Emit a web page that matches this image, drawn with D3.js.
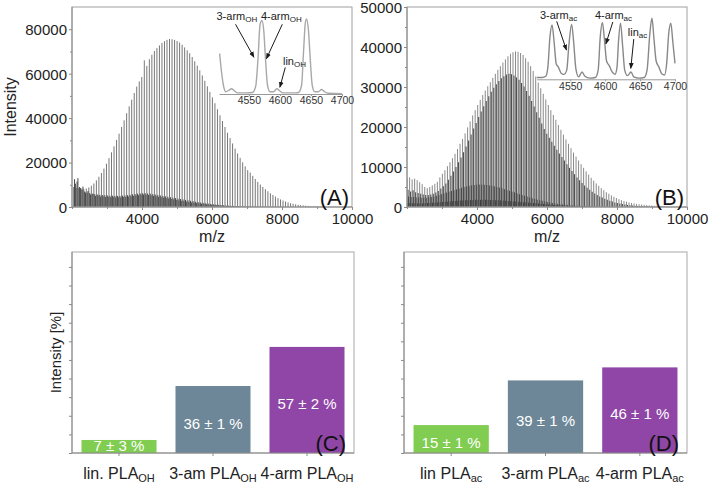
<!DOCTYPE html>
<html><head><meta charset="utf-8">
<script src="https://cdn.jsdelivr.net/npm/d3@7/dist/d3.min.js"></script>
<style>
body{margin:0;background:#fff}
svg{display:block}
text{font-family:"Liberation Sans",Arial,Helvetica,sans-serif}
</style>
</head><body>
<svg id="chart" width="709" height="484"></svg>
<script>
// ---------------- DATA ----------------
const REPEAT_UNIT = 72.06; // PLA repeat unit (Da), spacing of each peak series

// Panel A (PLA_OH) overview spectrum: peak heights of each series, one value per peak
const startA_main = 2048;
const peaksA_main = [9000,8700,8500,8300,8200,8300,8800,9600,10600,12000,
13600,15300,17300,19500,22000,24600,27300,30200,33000,36000,
39000,42200,45300,48300,51300,54200,56500,58500,66000,63500,
66500,68500,70200,71500,72700,73800,74600,75200,75600,75500,
75200,74700,74000,73000,71800,70500,69200,67500,65600,63600,
61500,59200,56800,54300,51800,49300,46700,44000,41300,38700,
36000,33400,31000,28600,26300,24100,22100,20100,18300,16600,
15500,14000,12600,11300,10100,9000,8000,7100,6200,5400,
4700,4000,3400,2900,2450,2050,1720,1450,1200,1000,
850,720,610,520,440,370,310,260,220,185,
155,130,110,95,80,70,60,50,45,40,35];
const startA_minor1 = 2073;
const peaksA_minor1 = [12500,11500,9000,7800,7000,6500,6300,6000,5800,5600,
5500,5400,5300,5200,5100,5100,5000,5000,5000,5100,
5200,5300,5500,5700,5800,6000,6100,6200,6200,6100,
6000,5800,5600,5400,5200,5000,4800,4600,4400,4200,
4000,3800,3600,3400,3200,3000,2800,2600,2400,2200,
2000,1850,1700,1550,1400,1250,1100,1000,900,800,
700,620,550,480,420,370,320,280,240,210,
180,160,140,120,105,90,80,70,60,52,45,40,35,30,26,22,19,16,14,12,10];
const startA_minor2 = 2097;
const peaksA_minor2 = [10500,13000,8500,9200,6500,7200,5600,5900,5000,5200,
4700,4800,4500,4600,4400,4500,4300,4400,4300,4500,
4500,4700,4800,5000,5200,5300,5500,5600,5500,5400,
5200,5000,4800,4600,4400,4200,4000,3800,3600,3400,
3200,3000,2800,2600,2400,2200,2050,1900,1750,1600,
1450,1300,1180,1060,950,850,760,680,600,530,
470,410,360,320,280,245,215,190,165,145,
125,110,95,85,75,65,55,48,42,36,30,26,22,18,15,12,10,8,6,5,4];

// Panel B (PLA_ac) overview spectrum
const startB_main = 2002;
const peaksB_main = [7200,7400,6900,7100,6700,6200,5700,5000,4700,5000,
5400,5800,6300,7400,8300,9200,10200,11200,12200,13300,
14500,15800,17000,18400,19900,21400,22900,24200,25500,26800,
28000,29100,30200,31200,32300,33300,34300,35200,36100,36900,
37700,38300,38700,38900,38800,38500,38000,37200,36300,35200,
34000,32600,31100,29700,28300,26900,25500,24200,23000,21800,
20500,19300,18100,16900,15800,14700,13600,12600,11600,10700,
9800,8900,8100,7300,6600,5900,5300,4700,4200,3700,
3300,2900,2550,2250,1950,1700,1500,1320,1160,1020,
900,790,700,620,550,480,420,370,320,280,
240,210,180,155,135,115,100,85,72,62,52];
const startB_second = 2030;
const peaksB_second = [4300,3900,4200,3700,3500,3300,3100,3000,3000,3100,
3300,3600,4000,4600,5200,5900,6800,7800,8900,10000,
11200,12400,13700,15100,16600,18100,19600,21000,22500,23900,
25200,26500,27700,28800,29800,30700,31500,32200,32700,33100,
33300,33200,32900,32400,31800,31000,30100,29000,27800,26500,
25100,23700,22300,20900,19500,18300,17300,16300,15300,14300,
13400,12500,11600,10700,9800,9000,8200,7400,6700,6000,
5400,4800,4300,3800,3400,3000,2650,2350,2050,1800,
1550,1350,1150,1000,850,720,610,520,440,370,
310,260,220,185,155,130,110,92,78,66,
55,46,39,33,28,24,20,17,15,13,11];
const startB_minor1 = 2045;
const peaksB_minor1 = [2600,2500,2500,2400,2400,2300,2300,2300,2400,2500,
2600,2800,3000,3200,3400,3600,3800,4000,4200,4400,
4600,4800,5000,5150,5300,5400,5500,5550,5600,5600,
5550,5500,5400,5300,5150,5000,4850,4650,4450,4250,
4050,3850,3650,3400,3200,3000,2800,2600,2400,2200,
2000,1850,1700,1550,1400,1250,1120,1000,890,790,
700,620,550,480,420,370,320,280,240,210,
180,155,130,110,95,80,68,58,49,41,34,28,23,19,16,13,11,9];
const startB_minor2 = 2010;
const peaksB_minor2 = [1000,1000,950,950,900,900,900,950,1000,1000,
1050,1100,1150,1200,1250,1300,1350,1400,1450,1500,
1550,1600,1650,1700,1700,1750,1750,1800,1800,1800,
1800,1800,1800,1750,1750,1700,1700,1650,1600,1550,
1500,1450,1400,1350,1300,1250,1200,1150,1100,1050,
1000,950,880,820,760,700,640,580,520,470,
420,370,330,290,250,220,190,160,140,120,
100,85,70,60,50,40,32,25,20,15];

// axis ticks
const ticksA_y = [0,20000,40000,60000,80000];
const minorA_y = [10000,30000,50000,70000];
const ticksB_y = [0,10000,20000,30000,40000,50000];
const minorB_y = [5000,15000,25000,35000,45000];
const ticks_mz = [4000,6000,8000,10000];
const minor_mz = [2000,3000,5000,7000,9000];
const ticks_inset = [4550,4600,4650,4700];

// Inset A (zoom of PLA_OH spectrum, relative intensity)
const insetA_mz  = [4503,4506,4509,4513,4518,4522,4527,4532,4545,4556,4561,4565,4568,4571,4574,4577,4580,4584,4590,4595,4600,4605,4625,4630,4635,4638,4641,4643,4646,4649,4652,4656,4662,4667,4672,4678,4700];
const insetA_val = [54,30,12,3,5,7,4,1.5,1.5,2,10,50,92,98,85,45,12,3,3,7,4,1.5,1.5,2,12,55,95,100,85,45,12,3,3,6,3,1,0.5];
// Inset B (zoom of PLA_ac spectrum)
const insetB_mz  = [4502,4510,4515,4518,4521,4524,4527,4530,4533,4537,4541,4545,4548,4552,4555,4558,4562,4567,4571,4578,4586,4590,4593,4596,4599,4602,4606,4610,4614,4617,4619,4622,4625,4628,4632,4637,4641,4648,4656,4660,4664,4667,4670,4673,4677,4681,4685,4688,4691,4694,4697,4700];
const insetB_val = [3,3,5,20,70,89,60,25,20,10,8,15,55,90,60,18,4,12,5,2,3,15,70,93,65,30,22,12,8,20,60,92,55,15,6,12,4,2,3,15,75,100,65,30,20,9,7,25,75,92,60,26];

// inset annotations: label, subscript, text anchor (mz, rel), arrow from (mz, rel) to (mz, rel)
const annotA = [
  {t:"3-arm", s:"OH", tx:4498, ty:99, x1:4528.6, y1:93, x2:4558.2, y2:49},
  {t:"4-arm", s:"OH", tx:4569.5, ty:99, x1:4603.9, y1:93, x2:4578.3, y2:47},
  {t:"lin",   s:"OH", tx:4605, ty:39, x1:4608.7, y1:35.5, x2:4600, y2:9}
];
const annotB = [
  {t:"3-arm", s:"ac", tx:4506.7, ty:99, x1:4530.6, y1:95, x2:4544.6, y2:48},
  {t:"4-arm", s:"ac", tx:4585.3, ty:99, x1:4611, y1:94, x2:4601, y2:58},
  {t:"lin",   s:"ac", tx:4632.4, ty:71, x1:4641, y1:66, x2:4636.7, y2:18}
];

// Bar panels
const catsC = ["lin. PLA","3-am PLA","4-arm PLA"];
const subC = "OH";
const valuesC = [7,36,57];
const labelsC = ["7 ± 3 %","36 ± 1 %","57 ± 2 %"];
const catsD = ["lin PLA","3-arm PLA","4-arm PLA"];
const subD = "ac";
const valuesD = [15,39,46];
const labelsD = ["15 ± 1 %","39 ± 1 %","46 ± 1 %"];
const barColors = ["#80cd52","#6d8798","#8f46a6"];
const ticks_pct = [0,10,20,30,40,50,60,70,80,90,100];

// ---------------- DRAWING ----------------
const svg = d3.select("#chart");
const defs = svg.append("defs");
defs.append("marker").attr("id","ah").attr("viewBox","0 0 10 10")
  .attr("refX",9).attr("refY",5).attr("markerWidth",6).attr("markerHeight",6)
  .attr("orient","auto")
  .append("path").attr("d","M0,1 L10,5 L0,9 Z").attr("fill","#1a1a1a");

function styleAxis(g, fs, col){
  g.select(".domain").remove();
  g.selectAll(".tick line").attr("stroke","#8a8a8a");
  g.selectAll(".tick text").attr("font-size",fs).attr("fill",col||"#222")
    .attr("font-family",'"Liberation Sans",Arial,sans-serif');
}

function peakSeries(g, x, y, start, arr, color, w){
  const pts = arr.map((v,i)=>({mz:start + i*REPEAT_UNIT, v:v}));
  g.selectAll(null).data(pts).enter().append("line")
    .attr("x1",d=>x(d.mz)).attr("x2",d=>x(d.mz))
    .attr("y1",y(0)).attr("y2",d=>y(d.v))
    .attr("stroke",color).attr("stroke-width",w);
}

function spectrumPanel(o){
  const x = d3.scaleLinear().domain([2000,10000]).range([o.l,o.r]);
  const y = d3.scaleLinear().domain([0,o.ymax]).range([o.b,o.t]);
  const g = svg.append("g");
  const clipId = "clip"+o.tag;
  defs.append("clipPath").attr("id",clipId).append("rect")
    .attr("x",o.l).attr("y",o.t).attr("width",o.r-o.l).attr("height",o.b-o.t);
  const pg = g.append("g").attr("clip-path",`url(#${clipId})`);
  o.series.forEach(s=>peakSeries(pg,x,y,s.start,s.data,s.color,s.w));

  // frame
  g.append("rect").attr("x",o.l).attr("y",o.t).attr("width",o.r-o.l).attr("height",o.b-o.t)
    .attr("fill","none").attr("stroke","#a0a0a0").attr("stroke-width",1);
  g.append("line").attr("x1",o.l).attr("x2",o.r).attr("y1",o.b).attr("y2",o.b).attr("stroke","#8a8a8a");
  g.append("line").attr("x1",o.l).attr("x2",o.l).attr("y1",o.t).attr("y2",o.b).attr("stroke","#8a8a8a");

  const ya = g.append("g").attr("transform",`translate(${o.l},0)`)
    .call(d3.axisLeft(y).tickValues(o.yt).tickFormat(d3.format("d")).tickSize(3).tickPadding(2));
  styleAxis(ya,"15px");
  ya.selectAll(".tick text").attr("dy","0.36em");
  const ym = g.append("g").attr("transform",`translate(${o.l},0)`)
    .call(d3.axisLeft(y).tickValues(o.ym).tickFormat("").tickSize(2));
  styleAxis(ym,"15px");
  const xa = g.append("g").attr("transform",`translate(0,${o.b})`)
    .call(d3.axisBottom(x).tickValues(ticks_mz).tickFormat(d3.format("d")).tickSize(3).tickPadding(3));
  styleAxis(xa,"15px");
  const xm = g.append("g").attr("transform",`translate(0,${o.b})`)
    .call(d3.axisBottom(x).tickValues(minor_mz).tickFormat("").tickSize(2));
  styleAxis(xm,"15px");

  g.append("text").attr("x",(o.l+o.r)/2).attr("y",242).attr("text-anchor","middle")
    .attr("font-size","16px").attr("fill","#222").text("m/z");
  g.append("text").attr("x",o.r-3).attr("y",o.b-2).attr("text-anchor","end")
    .attr("font-size","22px").attr("fill","#111").text(o.letter);

  // inset
  const ix = d3.scaleLinear().domain([4502,4700]).range(o.insetX);
  const iy = d3.scaleLinear().domain([0,100]).range(o.insetY);
  const ia = g.append("g").attr("transform",`translate(0,${o.insetY[0]})`)
    .call(d3.axisBottom(ix).tickValues(ticks_inset).tickFormat(d3.format("d")).tickSize(2).tickPadding(1).tickSizeOuter(0));
  ia.select(".domain").attr("stroke","#999");
  ia.selectAll(".tick line").attr("stroke","#999");
  ia.selectAll(".tick text").attr("font-size","10.5px").attr("fill","#333")
    .attr("font-family",'"Liberation Sans",Arial,sans-serif');
  const line = d3.line().x(d=>ix(d[0])).y(d=>iy(d[1])).curve(d3.curveMonotoneX);
  g.append("path").datum(o.insetMz.map((m,i)=>[m,o.insetVal[i]]))
    .attr("d",line).attr("fill","none").attr("stroke",o.insetColor).attr("stroke-width",1.4);
  o.annot.forEach(a=>{
    const t = g.append("text").attr("x",ix(a.tx)).attr("y",iy(a.ty))
      .attr("font-size","11px").attr("fill","#222");
    t.append("tspan").attr("fill","#222").text(a.t);
    t.append("tspan").attr("fill","#222").attr("font-size","8px").attr("dy",2.5).text(a.s);
    g.append("line").attr("x1",ix(a.x1)).attr("y1",iy(a.y1)).attr("x2",ix(a.x2)).attr("y2",iy(a.y2))
      .attr("stroke","#1a1a1a").attr("stroke-width",1).attr("marker-end","url(#ah)");
  });
}

spectrumPanel({tag:"A", l:72, r:352, t:7, b:207, ymax:90000, yt:ticksA_y, ym:minorA_y, letter:"(A)",
  series:[
    {start:startA_main, data:peaksA_main, color:"#777777", w:1},
    {start:startA_minor2, data:peaksA_minor2, color:"#4c4c4c", w:1},
    {start:startA_minor1, data:peaksA_minor1, color:"#454545", w:1}
  ],
  insetX:[219,342], insetY:[94,19], insetMz:insetA_mz, insetVal:insetA_val, insetColor:"#a8a8a8", annot:annotA});

spectrumPanel({tag:"B", l:407, r:687, t:7, b:207, ymax:50000, yt:ticksB_y, ym:minorB_y, letter:"(B)",
  series:[
    {start:startB_main, data:peaksB_main, color:"#8a8a8a", w:1},
    {start:startB_second, data:peaksB_second, color:"#505050", w:1.1},
    {start:startB_minor1, data:peaksB_minor1, color:"#464646", w:1},
    {start:startB_minor2, data:peaksB_minor2, color:"#3e3e3e", w:1}
  ],
  insetX:[536.7,675], insetY:[79.3,18.3], insetMz:insetB_mz, insetVal:insetB_val, insetColor:"#888", annot:annotB});

// Intensity label for top row
svg.append("text").attr("transform","translate(16,107) rotate(-90)").attr("text-anchor","middle")
  .attr("font-size","16px").attr("fill","#222").text("Intensity");

function barPanel(o){
  const x = d3.scaleBand().domain(o.cats).range([o.l,o.r]).paddingInner(0.202).paddingOuter(0.101);
  const y = d3.scaleLinear().domain([0,108]).range([o.b,o.t]);
  const g = svg.append("g");
  g.append("rect").attr("x",o.l).attr("y",o.t).attr("width",o.r-o.l).attr("height",o.b-o.t)
    .attr("fill","none").attr("stroke","#a8a8a8");
  g.selectAll(null).data(o.vals).enter().append("rect")
    .attr("x",(d,i)=>x(o.cats[i])).attr("width",x.bandwidth())
    .attr("y",d=>y(d)).attr("height",d=>y(0)-y(d))
    .attr("fill",(d,i)=>barColors[i]);
  g.selectAll(null).data(o.vals).enter().append("text")
    .attr("x",(d,i)=>x(o.cats[i])+x.bandwidth()/2)
    .attr("y",d=>Math.min(y(d/2)+9, y(0)-2)).attr("text-anchor","middle")
    .attr("font-size","15px").attr("fill","#fff")
    .text((d,i)=>o.labels[i]);
  g.append("line").attr("x1",o.l).attr("x2",o.r).attr("y1",o.b).attr("y2",o.b).attr("stroke","#8a8a8a");
  g.append("line").attr("x1",o.l).attr("x2",o.l).attr("y1",o.t).attr("y2",o.b).attr("stroke","#8a8a8a");
  const ya = g.append("g").attr("transform",`translate(${o.l},0)`)
    .call(d3.axisLeft(y).tickValues(ticks_pct).tickFormat("").tickSize(3));
  styleAxis(ya,"15px");
  const xa = g.append("g").attr("transform",`translate(0,${o.b})`)
    .call(d3.axisBottom(x).tickSize(3).tickFormat(""));
  styleAxis(xa,"15px");
  o.cats.forEach((c,i)=>{
    const t = g.append("text").attr("x",x(c)+x.bandwidth()/2).attr("y",479)
      .attr("text-anchor","middle").attr("font-size","16px").attr("fill","#222");
    t.append("tspan").text(c);
    t.append("tspan").attr("font-size","11px").attr("dy",3).text(o.sub);
  });
  g.append("text").attr("x",o.r-8).attr("y",o.b-2).attr("text-anchor","end")
    .attr("font-size","22px").attr("fill","#111").text(o.letter);
  if(o.ylabel){
    g.append("text").attr("transform",`translate(61,${(o.t+o.b)/2}) rotate(-90)`).attr("text-anchor","middle")
      .attr("font-size","15px").attr("fill","#222").text(o.ylabel);
  }
}

barPanel({l:72, r:354, t:252, b:453, cats:catsC, sub:subC, vals:valuesC, labels:labelsC, letter:"(C)", ylabel:"Intensity [%]"});
barPanel({l:404, r:687, t:252, b:453, cats:catsD, sub:subD, vals:valuesD, labels:labelsD, letter:"(D)"});
</script>
</body></html>
